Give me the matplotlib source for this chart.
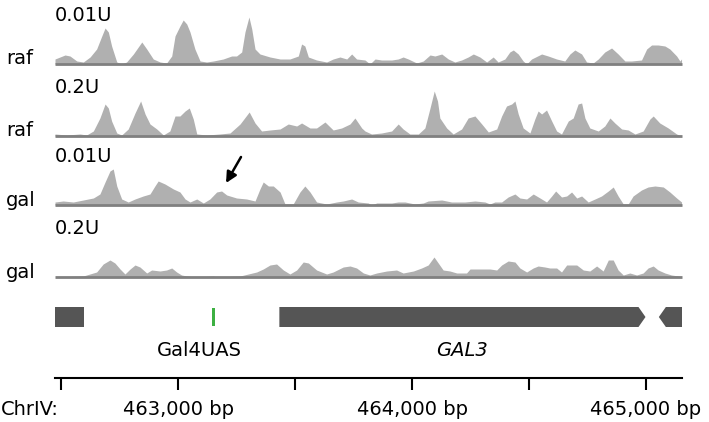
import matplotlib
matplotlib.use("Agg")
import matplotlib.pyplot as plt
from matplotlib.patches import Polygon, Rectangle
from matplotlib import transforms

plt.rcParams['font.family'] = ['DejaVu Sans']

# ---------------- data ----------------
X_MIN, X_MAX = 462474, 465154

raf001_pos = [462474, 462517, 462538, 462567, 462595, 462624, 462652, 462674, 462688, 462702,
              462716, 462738, 462759, 462780, 462809, 462845, 462866, 462894, 462923, 462951,
              462973, 462987, 463008, 463022, 463037, 463051, 463072, 463094, 463122, 463151,
              463193, 463229, 463250, 463272, 463286, 463303, 463315, 463329, 463350, 463393,
              463436, 463478, 463514, 463528, 463542, 463557, 463592, 463635, 463663, 463692,
              463721, 463742, 463763, 463799,
              463820, 463842, 463870, 463913, 463941, 463962, 463984, 464020, 464048, 464077,
              464098, 464127, 464155, 464183, 464212, 464240, 464262, 464290, 464319, 464347,
              464368, 464397, 464418, 464433, 464454, 464475, 464490, 464511, 464554, 464582,
              464618, 464653, 464675, 464696, 464725, 464746, 464774, 464796, 464824, 464853,
              464881, 464910, 464938, 464981, 465003, 465024, 465052, 465081, 465102, 465131,
              465145, 465152]
raf001_cov = [5, 9, 8, 3, 2, 7, 15, 28, 36, 32,
              18, 2, 0, 2, 10, 22, 15, 5, 2, 1,
              8, 28, 38, 44, 40, 32, 15, 3, 2, 3,
              5, 8, 8, 12, 32, 47, 35, 15, 10, 7,
              5, 5, 8, 20, 18, 7, 4, 2, 5, 7,
              5, 10, 5, 4,
              0, 5, 4, 4, 5, 7, 5, 1, 3, 9,
              8, 10, 5, 2, 4, 7, 10, 7, 2, 7,
              2, 5, 12, 14, 10, 3, 0, 5, 10, 8,
              5, 3, 10, 14, 10, 2, 1, 5, 12, 16,
              10, 3, 3, 4, 15, 19, 19, 18, 15, 8,
              3, 5]

raf02_pos = [462474, 462524, 462581, 462609, 462638, 462666, 462688, 462702, 462716, 462738,
             462759, 462787, 462816, 462840, 462859, 462880, 462909, 462937, 462965, 462987,
             463008, 463030, 463048, 463065, 463080, 463122, 463179, 463222, 463265, 463304,
             463329, 463357, 463393, 463436, 463471, 463507, 463528, 463564, 463592, 463628,
             463663, 463699, 463735, 463756, 463785,
             463799, 463827, 463870, 463913, 463941, 463962, 463991, 464027, 464055, 464077,
             464095, 464109, 464119, 464148, 464176, 464212, 464240, 464269, 464298, 464326,
             464362, 464383, 464404, 464426, 464440, 464454, 464475, 464504, 464525, 464539,
             464554, 464575, 464597, 464618, 464639, 464668, 464689, 464710, 464725, 464739,
             464760, 464796, 464824, 464846, 464867, 464896, 464924, 464953, 464988, 465017,
             465031, 465059, 465095, 465131, 465152]
raf02_cov = [2, 1, 2, 1, 5, 18, 32, 28, 15, 3,
             1, 7, 23, 35, 22, 12, 7, 1, 5, 20,
             20, 25, 28, 17, 2, 1, 2, 3, 12, 24,
             13, 5, 6, 7, 12, 10, 13, 8, 8, 14,
             6, 8, 12, 18, 8,
             5, 2, 3, 5, 12, 7, 2, 2, 8, 28,
             45, 35, 18, 8, 2, 7, 18, 20, 12, 4,
             7, 20, 30, 32, 35, 22, 8, 3, 17, 25,
             22, 26, 15, 5, 2, 15, 18, 32, 33, 18,
             8, 5, 10, 18, 13, 7, 6, 2, 5, 17,
             20, 13, 8, 2, 0]

gal001_pos = [462474, 462509, 462552, 462595, 462638, 462666, 462688, 462709, 462723, 462738,
              462759, 462787, 462816, 462851, 462880, 462901, 462915, 462944, 462980, 463008,
              463030, 463051, 463080, 463108, 463136, 463165, 463186, 463208, 463250, 463293,
              463329, 463350, 463364, 463386, 463407, 463436, 463457, 463492, 463521, 463542,
              463564, 463592, 463635, 463678, 463706, 463742, 463770, 463813,
              463827, 463849, 463913, 463941, 463970, 464012, 464048, 464069, 464127, 464169,
              464198, 464226, 464269, 464312, 464333, 464354, 464383, 464411, 464440, 464461,
              464490, 464518, 464547, 464575, 464597, 464614, 464639, 464661, 464682, 464704,
              464725, 464753, 464782, 464810, 464839, 464860, 464881, 464903, 464924, 464945,
              464981, 465009, 465038, 465074, 465102, 465131, 465152]
gal001_cov = [3, 4, 3, 5, 7, 11, 23, 34, 36, 19,
              6, 3, 6, 9, 11, 19, 24, 21, 16, 13,
              6, 3, 6, 2, 6, 13, 14, 10, 7, 6,
              4, 16, 23, 19, 19, 13, 1, 1, 13, 19,
              13, 3, 1, 3, 4, 6, 3, 2,
              0, 2, 2, 3, 3, 1, 2, 4, 5, 3,
              3, 3, 4, 3, 1, 3, 3, 8, 11, 7,
              6, 11, 7, 3, 9, 14, 8, 9, 13, 7,
              9, 3, 6, 9, 14, 18, 9, 1, 1, 9,
              15, 18, 19, 18, 13, 7, 3]

gal02_pos = [462474, 462595, 462609, 462652, 462680, 462709, 462730, 462752, 462773, 462795,
             462816, 462837, 462866, 462887, 462923, 462951, 462973, 462994, 463015, 463037,
             463080, 463151, 463165, 463265, 463336, 463364, 463393, 463421, 463450, 463478,
             463507, 463535, 463557, 463592, 463635, 463663, 463706, 463735,
             463763, 463792, 463820, 463849, 463892, 463934, 463962, 464006, 464041, 464069,
             464094, 464112, 464133, 464162, 464191, 464233, 464248, 464333, 464362, 464383,
             464411, 464440, 464461, 464490, 464518, 464539, 464568, 464589, 464618, 464639,
             464661, 464682, 464704, 464732, 464760, 464789, 464817, 464839, 464860, 464881,
             464903, 464931, 464960, 464988, 465009, 465031, 465052, 465081, 465109, 465138,
             465152]
gal02_cov = [0, 1, 2, 5, 13, 17, 14, 8, 3, 8,
             12, 10, 4, 7, 6, 7, 9, 5, 2, 1,
             0, 1, 0, 1, 5, 8, 12, 13, 7, 3,
             7, 15, 14, 7, 3, 5, 10, 11,
             9, 4, 2, 4, 6, 7, 4, 6, 9, 12,
             20, 14, 7, 6, 4, 4, 8, 8, 7, 12,
             16, 15, 9, 5, 9, 11, 10, 9, 9, 5,
             12, 12, 12, 7, 6, 11, 6, 17, 17, 7,
             2, 4, 2, 4, 9, 11, 7, 4, 2, 1,
             0]

track_doses = ["0.01U", "0.2U", "0.01U", "0.2U"]
track_media = ["raf", "raf", "gal", "gal"]
track_pos = [raf001_pos, raf02_pos, gal001_pos, gal02_pos]
track_cov = [raf001_cov, raf02_cov, gal001_cov, gal02_cov]

# arrow marking a feature in the gal 0.01U track (bp, coverage)
arrow_head = (463205, 22)
arrow_tail = (463269, 48)

# annotation features
gene_names = ["", "GAL3", ""]
gene_starts = [462474, 463433, 465055]
gene_ends = [462598, 464998, 465154]
gene_strands = [0, 1, -1]
uas_name = "Gal4UAS"
uas_start, uas_end = 463145, 463156
uas_label_center = 463089

major_ticks = [463000, 464000, 465000]
minor_ticks = [462500, 463500, 464500]
major_labels = ["463,000 bp", "464,000 bp", "465,000 bp"]
chrom_label = "ChrIV:"

# ---------------- layout helpers ----------------
W, H = 709, 422
fig = plt.figure(figsize=(W / 100, H / 100), dpi=100)
fig.patch.set_facecolor("white")

def fx(px):
    return px / W

def fy(py):
    return 1 - py / H

LEFT_PX, RIGHT_PX = 55, 682
baselines = [64, 136, 205, 277]
TRACK_H = 52
FILL = "#b0b0b0"
BASE = "#808080"
FS = 14

for i in range(4):
    b = baselines[i]
    ax = fig.add_axes([fx(LEFT_PX), fy(b), fx(RIGHT_PX - LEFT_PX), TRACK_H / H])
    ax.set_xlim(X_MIN, X_MAX)
    ax.set_ylim(0, TRACK_H)
    ax.axis("off")
    ax.fill_between(track_pos[i], track_cov[i], 0, color=FILL, lw=0)
    ax.plot([X_MIN, X_MAX], [0, 0], color=BASE, lw=2.0, solid_capstyle="butt", clip_on=False)
    fig.text(fx(LEFT_PX), fy(b - 43), track_doses[i], ha="left", va="baseline", fontsize=FS)
    fig.text(fx(6), fy(b + 0.5), track_media[i], ha="left", va="baseline", fontsize=FS)
    if i == 2:
        ax.annotate("", xy=arrow_head, xytext=arrow_tail,
                    arrowprops=dict(arrowstyle="-|>", color="black", lw=1.8,
                                    mutation_scale=16, shrinkA=0, shrinkB=0),
                    annotation_clip=False)

# ---------------- gene track ----------------
gax = fig.add_axes([fx(LEFT_PX), fy(337), fx(RIGHT_PX - LEFT_PX), 37 / H])
gax.set_xlim(X_MIN, X_MAX)
gax.set_ylim(0, 37)
gax.axis("off")
GENE_C = "#555555"
y0, y1 = 10, 30
ym = (y0 + y1) / 2
head = 30
for name, s, e, st in zip(gene_names, gene_starts, gene_ends, gene_strands):
    if st == 0:
        gax.add_patch(Rectangle((s, y0), e - s, y1 - y0, color=GENE_C, lw=0))
    elif st > 0:
        gax.add_patch(Polygon([(s, y0), (e - head, y0), (e, ym), (e - head, y1), (s, y1)],
                              closed=True, color=GENE_C, lw=0))
    else:
        gax.add_patch(Polygon([(s, ym), (s + head, y0), (e, y0), (e, y1), (s + head, y1)],
                              closed=True, color=GENE_C, lw=0))
gax.add_patch(Rectangle((uas_start, y0 + 1), uas_end - uas_start, y1 - y0 - 2,
                        color="#3db042", lw=0))

tr = transforms.blended_transform_factory(gax.transData, fig.transFigure)
fig.text(uas_label_center, fy(350), uas_name, transform=tr, ha="center", va="center",
         fontsize=FS)
g = gene_names.index("GAL3")
fig.text((gene_starts[g] + gene_ends[g]) / 2, fy(350), "GAL3", transform=tr,
         ha="center", va="center", fontsize=FS, style="italic")

# ---------------- coordinate axis ----------------
TICK_LEN, TICK_PAD = 8.5, 7.5
xax = fig.add_axes([fx(LEFT_PX), fy(378), fx(RIGHT_PX - LEFT_PX), 0.0001])
xax.set_xlim(X_MIN, X_MAX)
for sp in ["left", "right", "top"]:
    xax.spines[sp].set_visible(False)
xax.spines["bottom"].set_linewidth(1.5)
xax.set_yticks([])
xax.set_xticks(major_ticks)
xax.set_xticklabels(major_labels)
xax.set_xticks(minor_ticks, minor=True)
xax.tick_params(axis="x", which="both", direction="out", length=TICK_LEN, width=1.5,
                labelsize=FS, pad=TICK_PAD)
fig.text(fx(1), fy(378 + (TICK_LEN + TICK_PAD) * 100 / 72), chrom_label,
         ha="left", va="top", fontsize=FS)

fig.savefig("out.png", dpi=100, facecolor="white")
